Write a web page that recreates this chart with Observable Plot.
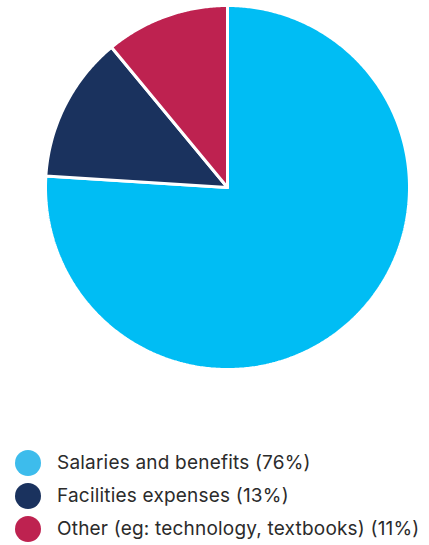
<!DOCTYPE html>
<html>
<head>
<meta charset="utf-8">
<script src="https://cdn.jsdelivr.net/npm/d3@7"></script>
<script src="https://cdn.jsdelivr.net/npm/@observablehq/plot@0.6"></script>
<style>
  body { margin: 0; background: #fff; font-family: Inter, "Noto Sans", sans-serif; }
  #legend { margin-top: 56px; }
  .row { display: flex; align-items: center; height: 33px; padding-left: 15px; }
  .dot { width: 26px; height: 26px; border-radius: 50%; margin-right: 16px; flex: none; }
  .lab { font-size: 19px; color: #2b2b2b; white-space: nowrap; letter-spacing: 0.2px; }
</style>
</head>
<body>
<div id="chart"></div>
<div id="legend"></div>
<script>
const categories = ["Salaries and benefits", "Facilities expenses", "Other (eg: technology, textbooks)"];
const values = [76, 13, 11];
const colors = ["#00BDF4", "#1A325E", "#BE2250"];
const legendColors = ["#3DBCEC", "#1A325E", "#BE2250"];

const arcs = d3.pie().sort(null).value(d => d)(values);
const pts = [];
arcs.forEach((a, i) => {
  const cat = categories[i];
  pts.push({cat, x: 0, y: 0});
  const n = Math.max(2, Math.ceil((a.endAngle - a.startAngle) / (Math.PI / 360)));
  for (let k = 0; k <= n; k++) {
    const t = a.startAngle + (a.endAngle - a.startAngle) * k / n;
    pts.push({cat, x: Math.sin(t), y: Math.cos(t)});
  }
  pts.push({cat, x: 0, y: 0});
});

const chart = Plot.plot({
  width: 429,
  height: 390,
  marginLeft: 45,
  marginRight: 20,
  marginTop: 5,
  marginBottom: 21,
  x: {domain: [-1, 1], axis: null},
  y: {domain: [-1, 1], axis: null},
  color: {domain: categories, range: colors},
  marks: [
    Plot.line(pts, {x: "x", y: "y", z: "cat", fill: "cat", stroke: "white", strokeWidth: 3, strokeLinejoin: "miter", curve: "linear"})
  ]
});
document.getElementById("chart").appendChild(chart);

const legend = d3.select("#legend");
categories.forEach((c, i) => {
  const row = legend.append("div").attr("class", "row");
  row.append("div").attr("class", "dot").style("background", legendColors[i]);
  row.append("div").attr("class", "lab").text(`${c} (${values[i]}%)`);
});
</script>
</body>
</html>
